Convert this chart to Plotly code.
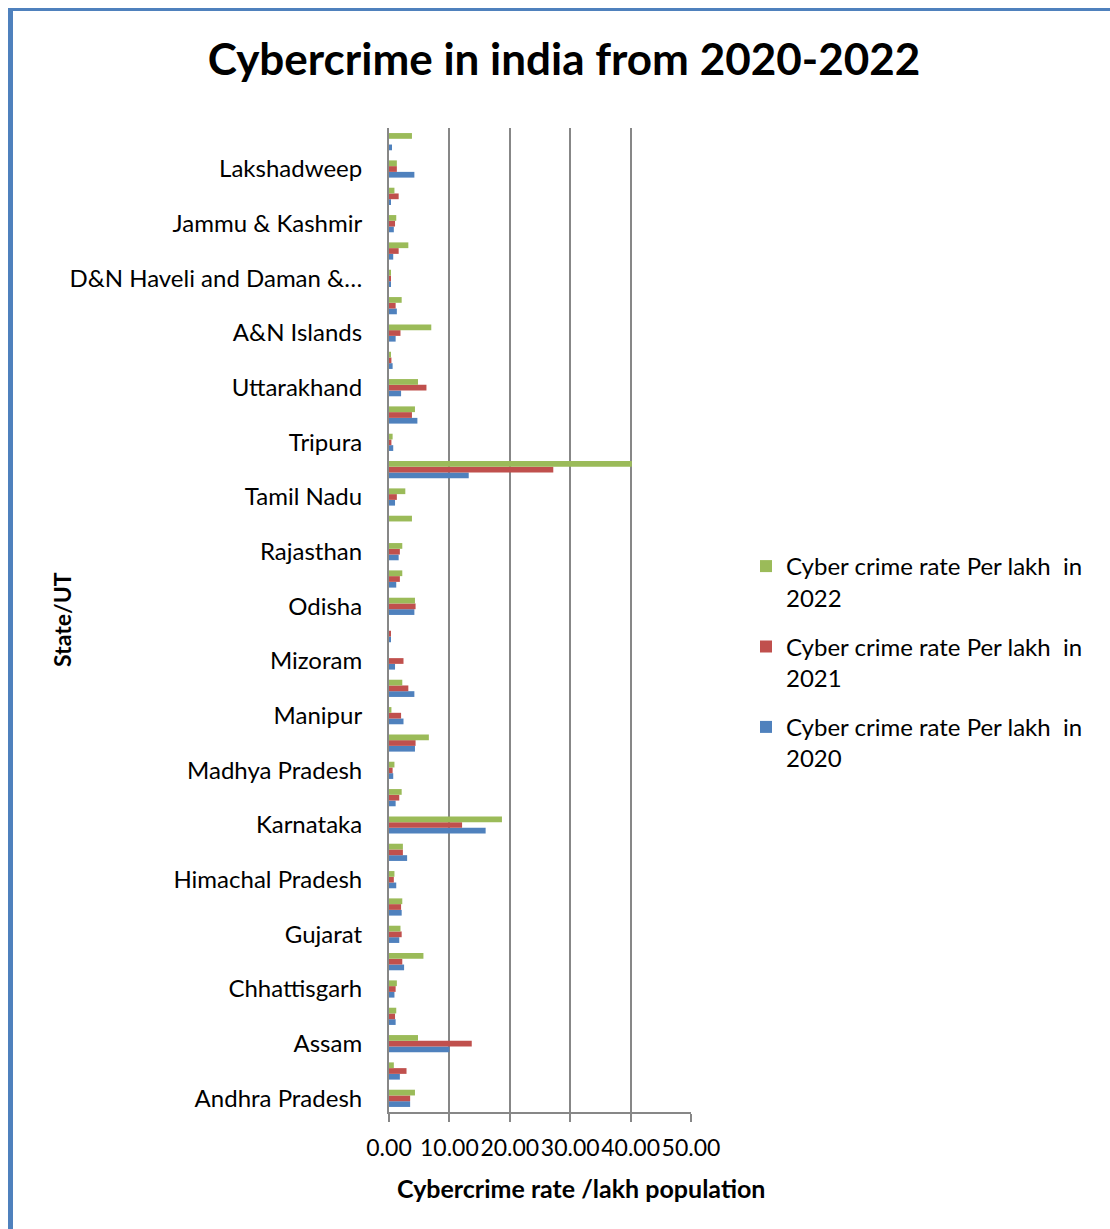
import plotly.graph_objects as go

states = ["Andhra Pradesh", "Arunachal Pradesh", "Assam", "Bihar", "Chhattisgarh", "Goa",
          "Gujarat", "Haryana", "Himachal Pradesh", "Jharkhand", "Karnataka", "Kerala",
          "Madhya Pradesh", "Maharashtra", "Manipur", "Meghalaya", "Mizoram", "Nagaland",
          "Odisha", "Punjab", "Rajasthan", "Sikkim", "Tamil Nadu", "Telangana", "Tripura",
          "Uttar Pradesh", "Uttarakhand", "West Bengal", "A&N Islands", "Chandigarh",
          "D&N Haveli and Daman & Diu", "Delhi", "Jammu & Kashmir", "Ladakh", "Lakshadweep",
          "Puducherry"]

rate_2022 = [4.3, 0.8, 4.8, 1.2, 1.3, 5.7, 1.9, 2.2, 0.9, 2.3, 18.7, 2.1,
             0.9, 6.6, 0.4, 2.2, 0.0, 0.0, 4.3, 2.2, 2.2, 3.8, 2.7, 40.2, 0.6,
             4.3, 4.8, 0.3, 7.0, 2.1, 0.3, 3.2, 1.2, 0.9, 1.3, 3.8]
rate_2021 = [3.5, 2.9, 13.7, 1.0, 1.1, 2.2, 2.1, 2.0, 0.8, 2.3, 12.1, 1.7,
             0.6, 4.4, 2.0, 3.2, 2.4, 0.3, 4.4, 1.8, 1.8, 0.0, 1.3, 27.2, 0.4,
             3.8, 6.2, 0.4, 1.9, 1.1, 0.3, 1.6, 1.0, 1.6, 1.3, 0.0]
rate_2020 = [3.5, 1.8, 10.0, 1.1, 0.9, 2.5, 1.7, 2.1, 1.2, 3.0, 16.0, 1.1,
             0.7, 4.3, 2.4, 4.2, 1.0, 0.3, 4.2, 1.2, 1.6, 0.0, 1.0, 13.2, 0.7,
             4.7, 2.0, 0.6, 1.1, 1.3, 0.2, 0.7, 0.8, 0.3, 4.2, 0.5]

series_names = ["Cyber crime rate Per lakh\u00a0 in<br>2020",
                "Cyber crime rate Per lakh\u00a0 in<br>2021",
                "Cyber crime rate Per lakh\u00a0 in<br>2022"]
series_colors = ["#4F81BD", "#C0504D", "#9BBB59"]
legend_ranks = [3, 2, 1]

shown_ticks = states[::2]
shown_text = [s if len(s) < 24 else "D&N Haveli and Daman &\u2026" for s in shown_ticks]

x_ticks = [0, 10, 20, 30, 40, 50]

W, H = 1110, 1229
ML, MR, MT, MB = 389, 1110 - 691, 128, 1229 - 1112
PW, PH = W - ML - MR, H - MT - MB

def px(x):
    return (x - ML) / PW

def py(y):
    return (H - MB - y) / PH

FONT = "Lato"
GRID = "#878787"

fig = go.Figure()
for vals, name, col, grp, rk in zip([rate_2020, rate_2021, rate_2022], series_names, series_colors,
                                    ["g2020", "g2021", "g2022"], legend_ranks):
    fig.add_trace(go.Bar(y=states, x=vals, orientation="h", name=name,
                         marker=dict(color=col, line=dict(width=0)),
                         legendgroup=grp, legendrank=rk))

fig.update_layout(
    width=W, height=H,
    margin=dict(l=ML, r=MR, t=MT, b=MB),
    paper_bgcolor="white", plot_bgcolor="white",
    barmode="group", bargap=0.37, bargroupgap=0,
    font=dict(family=FONT, color="black"),
    title=dict(text="Cybercrime in india from 2020-2022",
               font=dict(family=FONT, size=44, weight="bold", color="black"),
               x=564 / W, xref="container", xanchor="center",
               y=1 - 60 / H, yref="container", yanchor="middle"),
    legend=dict(x=px(746), y=py(544), xanchor="left", yanchor="top",
                traceorder="grouped", tracegroupgap=15, valign="top",
                font=dict(family=FONT, size=24, color="black"),
                itemwidth=30, bgcolor="rgba(0,0,0,0)"),
    xaxis=dict(range=[0, 50], tickvals=x_ticks, tickformat=".2f", tickangle=0,
               ticks="outside", ticklen=8, tickwidth=2, tickcolor=GRID,
               ticklabelstandoff=6,
               showline=True, linecolor=GRID, linewidth=2,
               showgrid=True, gridcolor=GRID, gridwidth=2, zeroline=False,
               tickfont=dict(family=FONT, size=23, color="black")),
    yaxis=dict(type="category", categoryorder="array", categoryarray=states,
               tickvals=shown_ticks, ticktext=shown_text, ticks="",
               ticklabelstandoff=20,
               showline=True, linecolor=GRID, linewidth=2, showgrid=False,
               tickfont=dict(family=FONT, size=24, color="black")),
    annotations=[
        dict(text="Cybercrime rate /lakh population", xref="paper", yref="paper",
             x=px(581), y=py(1188), xanchor="center", yanchor="middle", showarrow=False,
             font=dict(family=FONT, size=25, weight="bold", color="black")),
        dict(text="State/UT", xref="paper", yref="paper", textangle=-90,
             x=px(62), y=py(620), xanchor="center", yanchor="middle", showarrow=False,
             font=dict(family=FONT, size=23, weight="bold", color="black")),
    ],
    shapes=[
        dict(type="rect", xref="paper", yref="paper", x0=px(8), x1=px(W), y0=py(11), y1=py(8),
             fillcolor="#4F81BD", line=dict(width=0), layer="above"),
        dict(type="rect", xref="paper", yref="paper", x0=px(8), x1=px(13), y0=py(H), y1=py(8),
             fillcolor="#4F81BD", line=dict(width=0), layer="above"),
    ],
)

fig.write_html("out.html")
